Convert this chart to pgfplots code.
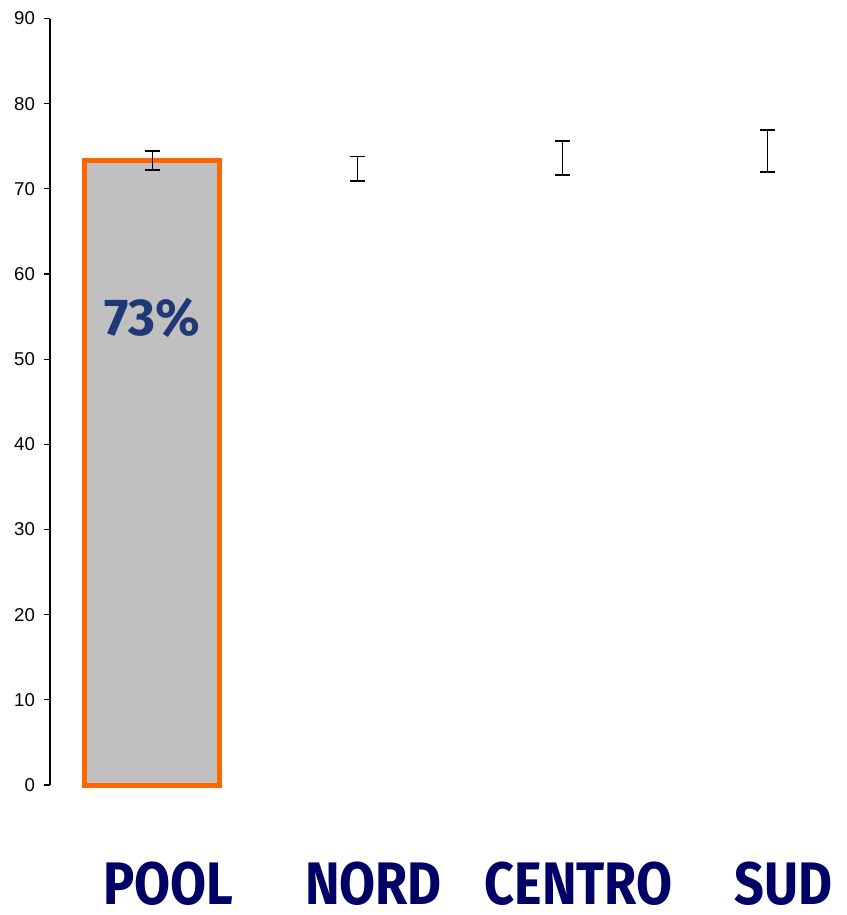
\documentclass[border=0pt]{standalone}
\usepackage{fontspec}
\setmainfont{Liberation Sans}
\newfontfamily\labfont[FakeStretch=0.87]{Fira Sans}
\newfontfamily\pctfont{Fira Sans}
\usepackage{pgfplots}
\pgfplotsset{compat=1.18}
\definecolor{barfill}{RGB}{192,192,192}
\definecolor{barline}{RGB}{255,102,0}
\definecolor{labnavy}{RGB}{0,0,102}
\definecolor{pctblue}{RGB}{31,56,118}
\begin{document}
\begin{tikzpicture}
\useasboundingbox (-25pt,-65pt) rectangle (398pt,392.5pt);
\begin{axis}[
    scale only axis,
    width=398pt, height=383.25pt,
    xmin=-0.5, xmax=3.383,
    ymin=0, ymax=90,
    ytick={0,10,...,90},
    xtick={0,1,2,3},
    xticklabels={POOL,NORD,CENTRO,SUD},
    axis y line*=left,
    axis x line*=bottom,
    x axis line style={draw=none},
    major x tick style={draw=none},
    y axis line style={line width=0.6pt},
    major y tick style={line width=0.6pt, black},
    tick align=outside,
    major tick length=3pt,
    /pgf/number format/assume math mode=true,
    yticklabel style={font=\fontsize{9.3}{11}\selectfont, xshift=-1pt},
    xticklabel style={font=\labfont\bfseries\fontsize{30}{32}\selectfont, text=labnavy, anchor=center, inner sep=0pt, yshift=-46.5pt, xshift=8pt},
    clip=false,
]
\addplot[ybar, bar width=67.5pt, fill=barfill, draw=barline, line width=2.5pt]
    coordinates {(0,73.3)};
\addplot[draw=none, mark=none,
    error bars/.cd, y dir=both, y explicit,
    error bar style={draw=black, line width=0.9pt},
    error mark options={rotate=90, mark size=3.75pt, line width=0.9pt, draw=black}]
    coordinates {
        (0,73.3) +- (0,1.1)
        (1,72.35) +- (0,1.45)
        (2,73.6) +- (0,2.0)
        (3,74.45) +- (0,2.45)
    };
\node[font=\pctfont\bfseries\fontsize{26}{28}\selectfont, text=pctblue] at (axis cs:0,54.8) {73\%};
\end{axis}
\end{tikzpicture}
\end{document}
